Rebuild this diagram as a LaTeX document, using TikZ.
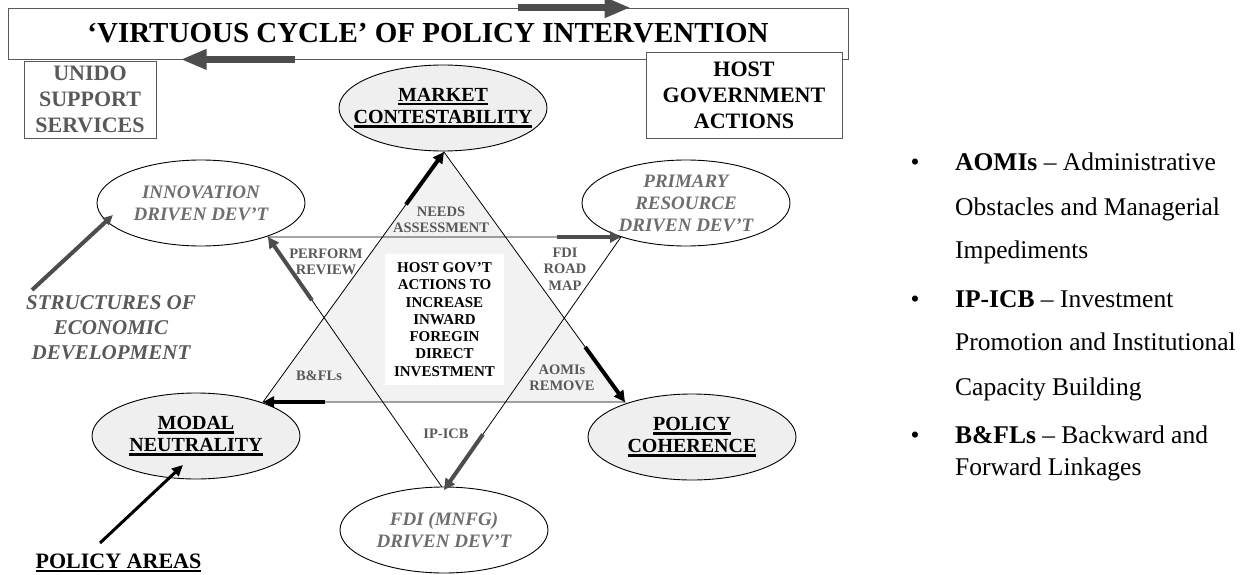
\documentclass[tikz,border=0pt]{standalone}
\usepackage{fontspec}
\setmainfont{Liberation Serif}
\usetikzlibrary{shapes.geometric}
\usetikzlibrary{arrows.meta}
\usetikzlibrary{calc}

\definecolor{boxgrey}{HTML}{595959}
\definecolor{labgrey}{HTML}{595959}
\definecolor{devgrey}{HTML}{6E6E6E}
\definecolor{arrgrey}{HTML}{4D4D4D}
\definecolor{ellfill}{HTML}{EFEFEF}
\definecolor{trifill}{HTML}{F2F2F2}

\newcommand{\sizeat}[2]{\fontsize{#1}{#2}\selectfont}
\newcommand{\thickul}[1]{\leavevmode\vtop{\hbox{#1}\kern1.5pt\hrule height 2.4pt}}

\begin{document}
\begin{tikzpicture}[x=1pt, y=-1pt,
blkarrow/.style={-{Triangle[length=11pt,width=11pt]}, line width=4pt, black},
gryarrow/.style={-{Triangle[length=11pt,width=11pt]}, line width=4pt, arrgrey},
cyclearrow/.style={-{Triangle[length=26pt,width=19pt]}, line width=7.5pt, arrgrey}
]

\tikzstyle{pol} = [draw, ellipse, fill=ellfill, line width=0.9pt, minimum width=208pt, minimum height=86pt, inner sep=0pt]
\tikzstyle{dev} = [pol, fill=white]
\tikzstyle{poltxt} = [align=center, font=\sizeat{20}{22}\bfseries]
\tikzstyle{devtxt} = [align=center, font=\sizeat{19}{22}\bfseries\itshape, text=devgrey]
\tikzstyle{lab} = [align=center, font=\sizeat{14.5}{16.5}\bfseries, text=labgrey]
\tikzstyle{sidebox} = [draw=boxgrey, fill=white, line width=0.8pt, align=center, font=\sizeat{22}{26}\bfseries]
\tikzstyle{defline} = [anchor=base west, inner sep=0pt, font=\sizeat{25.5}{30}]

\useasboundingbox (0,0) rectangle (1253,575);

% title bar and the two actors
\node[draw=boxgrey, line width=0.8pt, minimum width=840pt, minimum height=51pt,
      font=\sizeat{29}{32}\bfseries] (cycle) at (428,33.5) {‘VIRTUOUS CYCLE’ OF POLICY INTERVENTION};
\node[sidebox, text=labgrey, minimum width=132pt, minimum height=77pt] (unido) at (90,99.5) {UNIDO\\SUPPORT\\SERVICES};
\node[sidebox, minimum width=196pt, minimum height=86pt] (hostgov) at (744,95) {HOST\\GOVERNMENT\\ACTIONS};
\draw[cyclearrow] ([xshift=510pt]cycle.north west) -- ([xshift=623pt]cycle.north west);
\draw[cyclearrow] ([xshift=287pt]cycle.south west) -- ([xshift=173pt]cycle.south west);

% the star
\coordinate (apx) at (444,152);
\coordinate (ubl) at (263,402);
\coordinate (ubr) at (625,402);
\coordinate (dtl) at (268,237);
\coordinate (dtr) at (621,237);
\coordinate (dbot) at (444,490);
\draw[fill=trifill, line width=0.8pt] (apx) -- (ubl) -- (ubr) -- cycle;
\draw[line width=0.8pt] (dtl) -- (dtr) -- (dbot) -- cycle;
\node[fill=white, minimum width=119pt, minimum height=131pt, align=center,
      font=\sizeat{15}{17.3}\bfseries] (hostact) at (444.5,319.5)
      {HOST GOV’T\\ACTIONS TO\\INCREASE\\INWARD\\FOREGIN\\DIRECT\\INVESTMENT};

% policy areas
\node[pol] (market) at (443,108) {};
\node[poltxt] (markettxt) at (market) {\thickul{MARKET}\\\thickul{CONTESTABILITY}};
\node[pol] (modal) at (196,436) {};
\node[poltxt] (modaltxt) at (modal) {\thickul{MODAL}\\\thickul{NEUTRALITY}};
\node[pol] (coher) at (692,437) {};
\node[poltxt] (cohertxt) at (coher) {\thickul{POLICY}\\\thickul{COHERENCE}};

% structures of development
\node[dev] (inno) at (201,203) {};
\node[devtxt] (innotxt) at (inno) {INNOVATION\\DRIVEN DEV’T};
\node[dev] (primres) at (686,203) {};
\node[devtxt] (primrestxt) at (primres) {PRIMARY\\RESOURCE\\DRIVEN DEV’T};
\node[dev] (fdidev) at (444,530) {};
\node[devtxt] (fdidevtxt) at (fdidev) {FDI (MNFG)\\DRIVEN DEV’T};

% labels on the star
\node[lab] (needs) at (441,220) {NEEDS\\ASSESSMENT};
\node[lab] (perform) at (326,262) {PERFORM\\REVIEW};
\node[lab] (roadmap) at (565,269) {FDI\\ROAD\\MAP};
\node[lab] (bfl) at (319,376) {B\&FLs};
\node[lab] (aomi) at (562,378) {AOMIs\\REMOVE};
\node[lab] (ipicb) at (446,434) {IP-ICB};

% arrows along the edges
\draw[blkarrow] ($(ubl)!0.79!(apx)$) -- (apx);
\draw[gryarrow] ($(dtl)!0.82!(dtr)$) -- (dtr);
\draw[blkarrow] ($(apx)!0.78!(ubr)$) -- (ubr);
\draw[gryarrow] ($(dtr)!0.78!(dbot)$) -- (dbot);
\draw[blkarrow] ($(ubr)!0.83!(ubl)$) -- (ubl);
\draw[gryarrow] ($(dbot)!0.75!(dtl)$) -- (dtl);

% side captions
\node[align=center, font=\sizeat{21}{25}\bfseries\itshape, text=labgrey] (sed) at (111,328) {STRUCTURES OF\\ECONOMIC\\DEVELOPMENT};
\node[anchor=base, font=\sizeat{22}{24}\bfseries] (polareas) at (118.5,568) {\thickul{POLICY AREAS}};
\coordinate (sedtail) at (32,290);
\coordinate (sedtip) at (113,215);
\coordinate (patail) at (100,543);
\coordinate (patip) at (183,465);
\draw[-{Triangle[length=10pt,width=9pt]}, line width=4pt, arrgrey] (sedtail) -- (sedtip);
\draw[-{Triangle[length=11pt,width=10pt]}, line width=3pt, black] (patail) -- (patip);

% glossary
\node[defline, anchor=base] (bul1) at (915,171) {•};
\node[defline] (aomidef1) at (955,171) {\textbf{AOMIs} – Administrative};
\node[defline] (aomidef2) at (955,215) {Obstacles and Managerial};
\node[defline] (aomidef3) at (955,258) {Impediments};
\node[defline, anchor=base] (bul2) at (915,307) {•};
\node[defline] (ipdef1) at (955,307) {\textbf{IP-ICB} – Investment};
\node[defline] (ipdef2) at (955,350) {Promotion and Institutional};
\node[defline] (ipdef3) at (955,395) {Capacity Building};
\node[defline, anchor=base] (bul3) at (915,443) {•};
\node[defline] (bfldef1) at (955,443) {\textbf{B\&FLs} – Backward and};
\node[defline] (bfldef2) at (955,475) {Forward Linkages};
\end{tikzpicture}
\end{document}
